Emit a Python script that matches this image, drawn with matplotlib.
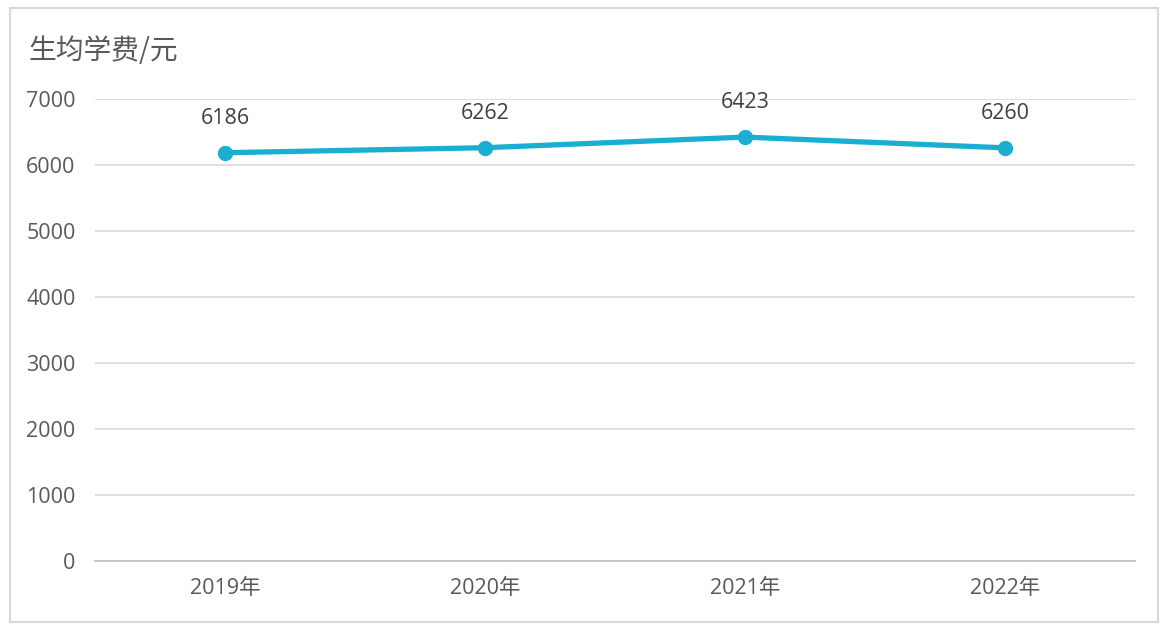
import matplotlib
matplotlib.use("Agg")
import matplotlib.pyplot as plt
from matplotlib.patches import Rectangle

plt.rcParams['font.family'] = ['Open Sans', 'Noto Sans CJK SC', 'DejaVu Sans']

# tuition per student by year
years = ["2019年", "2020年", "2021年", "2022年"]
fees = [6186, 6262, 6423, 6260]
yticks = [0, 1000, 2000, 3000, 4000, 5000, 6000, 7000]

W, H = 1166, 626
fig = plt.figure(figsize=(W / 100, H / 100), dpi=100)
fig.patch.set_facecolor("white")

# outer frame of the chart area
fig.patches.append(Rectangle((10 / W, 4 / H), 1148 / W, 614 / H, transform=fig.transFigure,
                             fill=False, edgecolor="#d9d9d9", linewidth=1.5))

ax = fig.add_axes([95 / W, (H - 561) / H, 1040 / W, 462 / H])
x = range(len(years))
ax.plot(x, fees, color="#1aafd0", linewidth=3.8, marker="o", markersize=10,
        solid_capstyle="round", zorder=3)
for i, v in enumerate(fees):
    ax.annotate(str(v), (i, v), xytext=(0, 17), textcoords="offset points",
                ha="center", va="bottom", fontsize=15.5, color="#404040")

ax.set_xlim(-0.5, len(years) - 0.5)
ax.set_ylim(0, 7000)
ax.set_yticks(yticks)
ax.set_xticks(list(x))
ax.set_xticklabels(years)
ax.grid(axis="y", color="#d9d9d9", linewidth=1.2)
ax.set_axisbelow(True)
for s in ["top", "right", "left"]:
    ax.spines[s].set_visible(False)
ax.spines["bottom"].set_color("#bfbfbf")
ax.spines["bottom"].set_linewidth(1.2)
ax.tick_params(axis="both", length=0, labelsize=15.5, labelcolor="#595959")
ax.tick_params(axis="y", pad=14)
ax.tick_params(axis="x", pad=12)

fig.text(28 / W, 1 - 51 / H, "生均学费/元", fontsize=20, color="#595959",
         va="center", ha="left", family=["Noto Sans CJK SC", "DejaVu Sans"])

fig.savefig("out.png", dpi=100)
